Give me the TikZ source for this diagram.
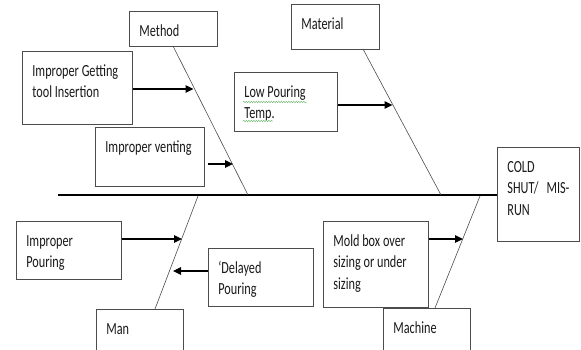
\documentclass[tikz,border=0pt]{standalone}
\usepackage{fontspec}
\setmainfont{Carlito}[FakeStretch=0.72]
\usetikzlibrary{arrows.meta,decorations.pathmorphing}
\definecolor{boxline}{gray}{0.3}
\definecolor{txt}{gray}{0.1}
\definecolor{squig}{RGB}{120,190,120}
\newcommand\boxtxt[3]{\parbox[t][#2pt][t]{#1pt}{\raggedright\leftskip=10pt\rule{0pt}{25pt}#3}}
\tikzset{
  box/.style={draw=boxline, line width=0.8pt, fill=white, inner sep=0pt, anchor=north west,
    font=\fontsize{17}{21.5}\selectfont, text=txt},
  branch/.style={draw=black!70, line width=0.6pt},
  spine/.style={draw=black, line width=2.8pt},
  cause/.style={draw=black, line width=1.2pt, -{Triangle[length=8pt,width=7.5pt]}},
  squiggle/.style={draw=squig, line width=0.5pt, decorate, decoration={snake, amplitude=0.7pt, segment length=2.5pt}}
}
\begin{document}
\begin{tikzpicture}[x=1pt, y=-1pt]
\useasboundingbox (0,0) rectangle (581,349);
\clip (0,0) rectangle (581,349);
% boxes
\node[box] (method) at (129,11) {\boxtxt{88}{35}{Method}};
\node[box] (material) at (291,4) {\boxtxt{88}{45}{Material}};
\node[box] (getting) at (22,51) {\boxtxt{110}{73}{Improper Getting\\tool Insertion}};
\node[box] (venting) at (95,127) {\boxtxt{109}{59}{Improper venting}};
\node[box] (lowpour) at (234,72) {\boxtxt{103}{59}{Low Pouring\\Temp.}};
\node[box] (cold) at (497,147) {\boxtxt{82}{94}{COLD\\SHUT/\hspace{8pt}MIS-\\RUN}};
\node[box] (impour) at (16,221) {\boxtxt{105}{58}{Improper\\Pouring}};
\node[box] (delayed) at (208,248) {\boxtxt{105}{58}{`Delayed\\Pouring}};
\node[box] (man) at (96,309) {\boxtxt{87}{60}{Man}};
\node[box] (mold) at (323,221) {\boxtxt{105}{86}{Mold box over\\sizing or under\\sizing}};
\node[box] (machine) at (383,308) {\boxtxt{87}{60}{Machine}};
% spell-check squiggles
\path[squiggle] (243,102) -- (307,102);
\path[squiggle] (243,121) -- (273,121);
% spine
\coordinate (tail) at (58,195);
\coordinate (head) at (cold.west |- tail);
\draw[spine] (tail) -- (head);
% branch points
\coordinate (sMethod) at (248,195);
\coordinate (sMaterial) at (441,195);
\coordinate (sMan) at (198,196);
\coordinate (sMachine) at (480,196);
\coordinate (tMaterial) at (363,49);
\coordinate (tMan) at (155,309);
\coordinate (tMachine) at (435,308);
\draw[branch] (method.south) -- (sMethod);
\draw[branch] (tMaterial) -- (sMaterial);
\draw[branch] (sMan) -- (tMan);
\draw[branch] (sMachine) -- (tMachine);
% cause arrows
\coordinate (aGetting) at (193.5,89);
\coordinate (aVenting) at (233,164);
\coordinate (aLow) at (392.5,105);
\coordinate (aImpour) at (182,239);
\coordinate (aDelayed) at (173,271);
\coordinate (aMold) at (463,239);
\coordinate (vStart) at (208,164);
\coordinate (lStart) at (338,105);
\draw[cause] (getting.east |- aGetting) -- (aGetting);
\draw[cause] (vStart) -- (aVenting);
\draw[cause] (lStart) -- (aLow);
\draw[cause] (impour.east |- aImpour) -- (aImpour);
\draw[cause] (delayed.west |- aDelayed) -- (aDelayed);
\draw[cause] (mold.east |- aMold) -- (aMold);
\end{tikzpicture}
\end{document}
